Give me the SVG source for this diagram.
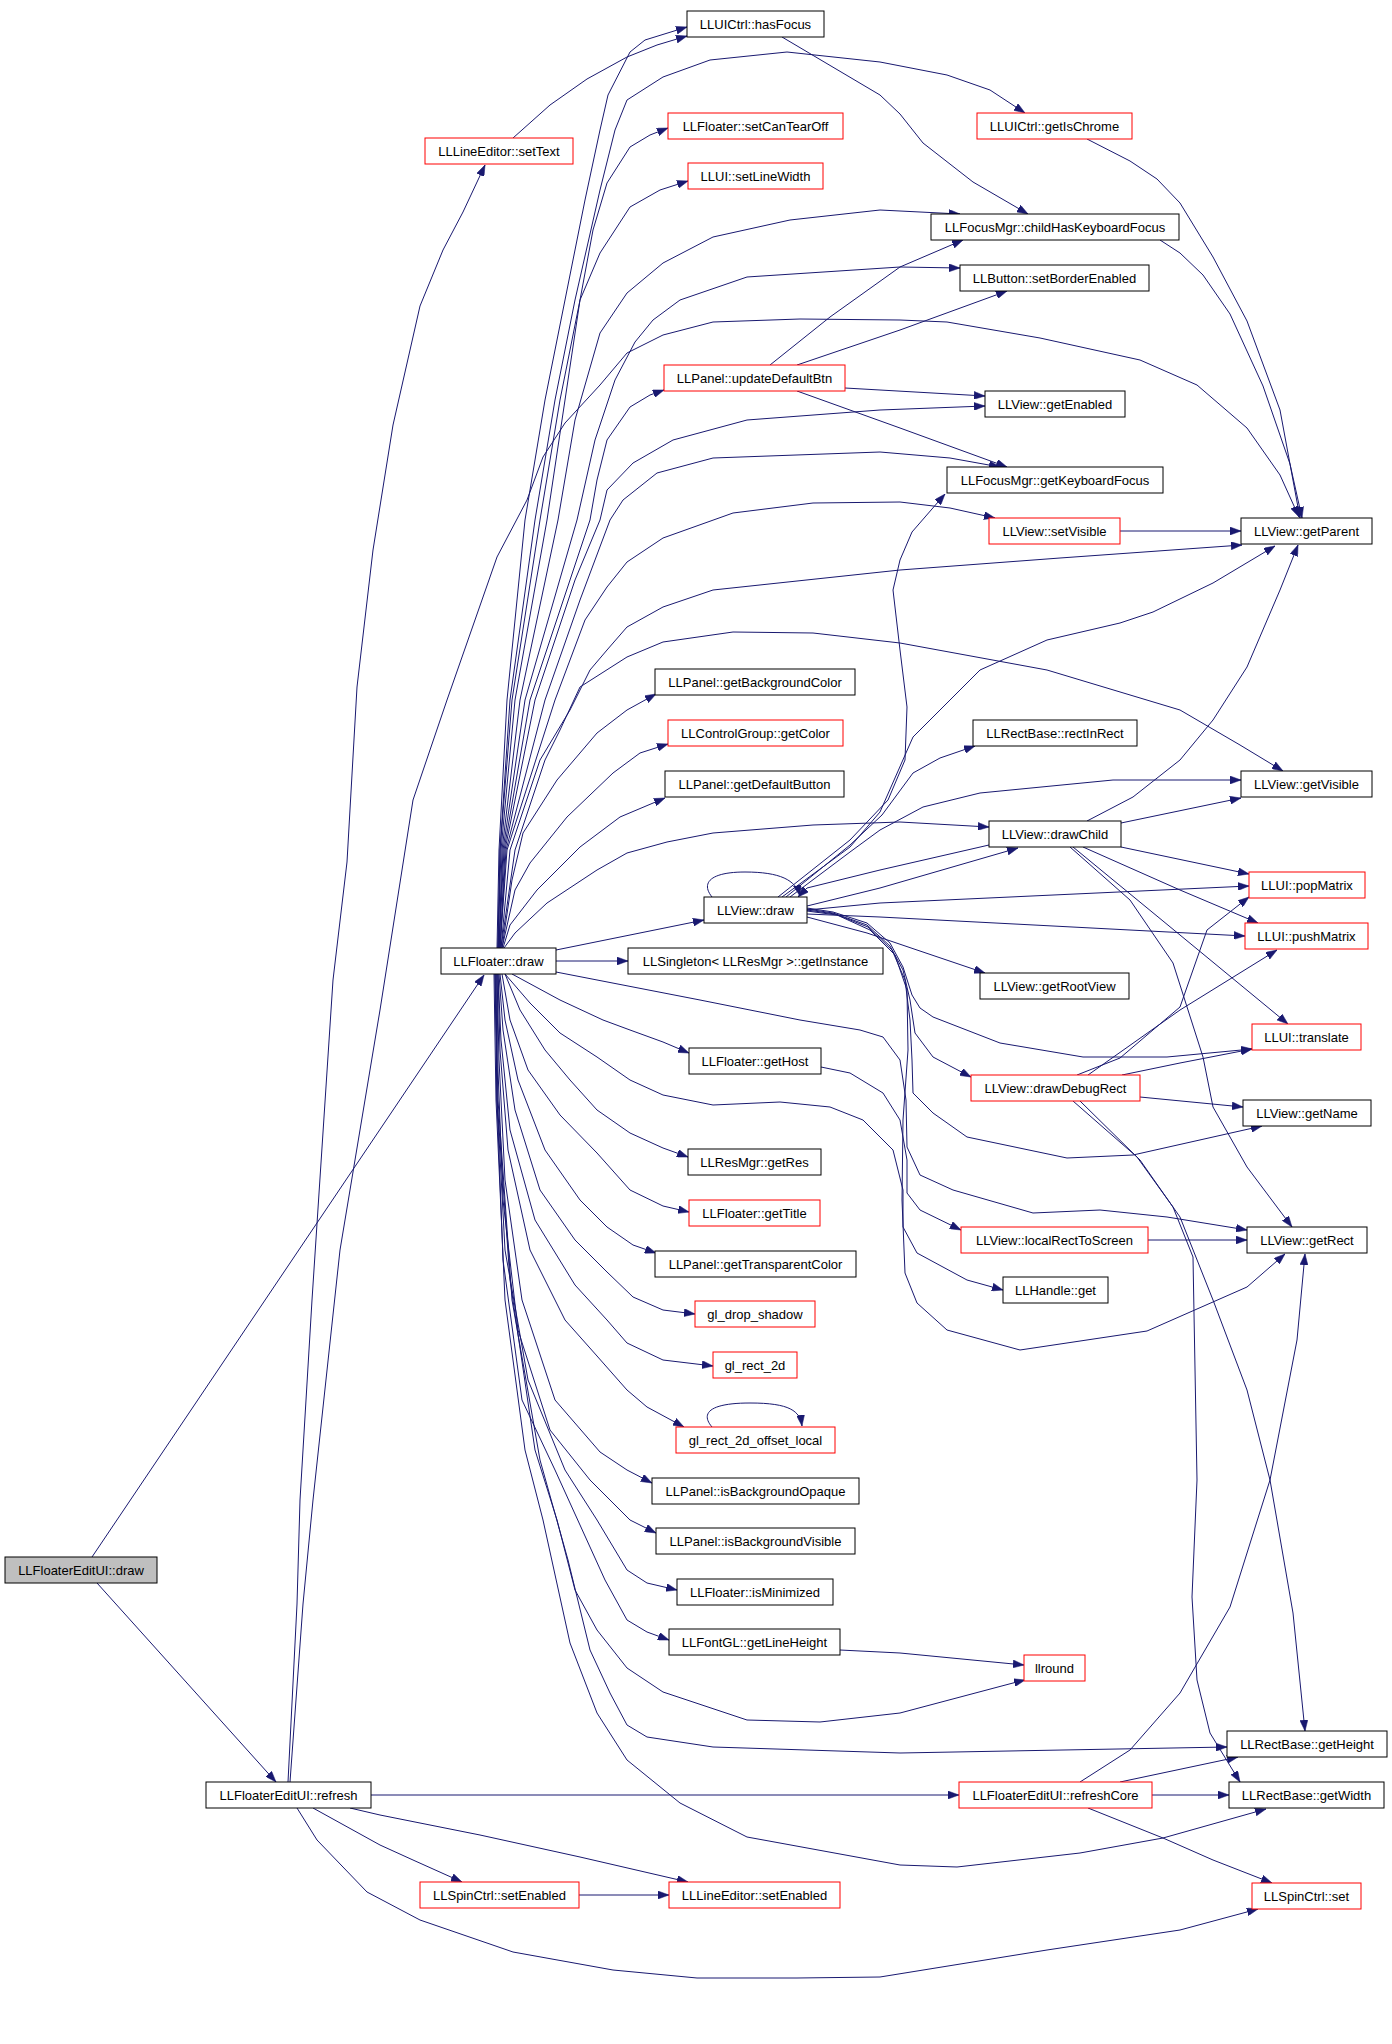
<svg xmlns="http://www.w3.org/2000/svg" width="1392" height="2044" viewBox="0 0 1392 2044">
<style>
.n rect{fill:#fff;stroke:#000;stroke-width:1}
.n.r rect{stroke:#f00}
.n.g rect{fill:#bfbfbf}
.n text{font-family:"Liberation Sans",Arial,sans-serif;font-size:13px;text-anchor:middle;fill:#000}
.e path{fill:none;stroke:#191970;stroke-width:1;stroke-linejoin:round;marker-end:url(#a)}
</style>
<defs>
<marker id="a" viewBox="0 0 11 8" markerWidth="11" markerHeight="8" refX="11" refY="4" orient="auto" markerUnits="userSpaceOnUse">
<path d="M0,0 L11,4 L0,8 z" fill="#191970" stroke="#191970" stroke-width="0.5"/>
</marker>
</defs>
<rect width="1392" height="2044" fill="#fff"/>
<g class="e" id="edges">
<path d="M92,1557 L484,975"/>
<path d="M97,1583 L276,1782"/>
<path d="M288,1782 L297,1604 L300,1500 L312,1300 L333,980 L347,862 L357,687 L373,550 L393,425 L420,306 L443,250 L463,212 L485,165"/>
<path d="M290,1782 L303,1604 L313,1500 L340,1250 L380,1010 L413,800 L447,700 L497,557 L527,500 L543,457 L565,423 L600,385 L627,353 L663,335 L713,322 L800,319 L900,320 L947,322 L1040,338 L1140,360 L1197,385 L1247,428 L1280,475 L1299,517"/>
<path d="M371,1795 L959,1795"/>
<path d="M313,1808 L380,1845 L413,1860 L462,1882"/>
<path d="M350,1808 L380,1815 L480,1835 L580,1857 L688,1882"/>
<path d="M579,1895 L669,1895"/>
<path d="M297,1808 L317,1840 L367,1892 L420,1920 L513,1952 L613,1970 L697,1978 L797,1978 L880,1977 L1047,1950 L1180,1930 L1258,1909"/>
<path d="M513,138 L550,105 L587,79 L627,57 L657,45 L687,36"/>
<path d="M497,948 L499,850 L507,700 L525,520 L545,400 L565,300 L585,200 L600,130 L608,95 L630,52 L645,40 L687,27"/>
<path d="M498,948 L500,850 L510,700 L535,520 L555,400 L575,300 L600,190 L615,130 L627,100 L663,77 L710,60 L787,52 L880,62 L947,75 L990,90 L1025,113"/>
<path d="M498,948 L500,850 L512,700 L540,520 L560,400 L580,300 L593,230 L607,183 L630,147 L650,135 L668,128"/>
<path d="M498,948 L501,850 L515,700 L547,520 L565,400 L580,300 L600,253 L630,207 L660,190 L688,181"/>
<path d="M499,948 L502,850 L520,700 L558,520 L575,420 L600,333 L627,293 L663,263 L713,237 L790,220 L880,210 L960,214"/>
<path d="M499,948 L503,850 L525,700 L577,520 L595,440 L615,380 L635,342 L653,320 L680,300 L747,277 L900,267 L960,268"/>
<path d="M499,948 L504,850 L530,700 L590,520 L597,480 L607,440 L630,407 L650,395 L664,390"/>
<path d="M500,948 L505,850 L535,700 L575,580 L600,520 L607,490 L633,463 L673,440 L747,420 L880,410 L985,406"/>
<path d="M500,948 L506,850 L545,700 L580,600 L610,520 L623,500 L657,473 L713,458 L880,452 L950,458 L1000,467"/>
<path d="M500,948 L507,850 L555,700 L585,620 L607,587 L627,562 L663,538 L733,513 L813,503 L900,502 L950,508 L995,518"/>
<path d="M501,948 L510,850 L540,760 L570,710 L590,670 L607,650 L627,627 L663,607 L713,590 L900,570 L1060,558 L1242,545"/>
<path d="M501,948 L515,850 L545,760 L560,730 L580,687 L627,657 L663,642 L733,632 L813,633 L900,643 L1047,670 L1180,710 L1240,745 L1283,771"/>
<path d="M502,948 L512,880 L523,833 L557,780 L597,733 L627,710 L656,694"/>
<path d="M502,948 L515,890 L530,863 L567,817 L613,773 L640,753 L668,744"/>
<path d="M503,948 L510,925 L537,890 L580,847 L620,817 L665,798"/>
<path d="M504,948 L515,933 L547,903 L597,870 L627,853 L667,842 L713,833 L813,825 L900,822 L989,827"/>
<path d="M556,950 L704,920"/>
<path d="M556,961 L628,961"/>
<path d="M512,974 L560,1000 L603,1020 L630,1030 L663,1042 L689,1053"/>
<path d="M505,974 L520,1010 L545,1050 L570,1080 L597,1110 L630,1133 L663,1148 L688,1157"/>
<path d="M502,974 L510,1020 L528,1070 L560,1115 L597,1153 L630,1190 L663,1206 L689,1212"/>
<path d="M500,974 L505,1020 L518,1080 L545,1150 L580,1200 L607,1227 L633,1245 L656,1253"/>
<path d="M499,974 L503,1030 L515,1110 L540,1190 L575,1240 L607,1272 L633,1297 L663,1310 L695,1314"/>
<path d="M498,974 L501,1040 L510,1130 L535,1220 L575,1285 L607,1320 L627,1343 L663,1360 L713,1366"/>
<path d="M498,974 L500,1050 L508,1150 L530,1250 L565,1320 L597,1356 L627,1390 L647,1407 L684,1427"/>
<path d="M712,1427 C700,1413 710,1403 750,1403 C790,1403 800,1411 802,1426"/>
<path d="M497,974 L499,1060 L505,1180 L522,1300 L555,1400 L600,1452 L627,1470 L652,1483"/>
<path d="M497,974 L498,1070 L503,1200 L518,1330 L550,1430 L590,1480 L613,1503 L630,1520 L656,1533"/>
<path d="M496,974 L497,1100 L505,1250 L528,1380 L565,1470 L597,1520 L627,1570 L647,1583 L677,1590"/>
<path d="M496,974 L497,1100 L503,1260 L522,1400 L555,1470 L580,1525 L605,1580 L627,1620 L647,1632 L669,1640"/>
<path d="M495,974 L497,1100 L510,1280 L535,1450 L557,1520 L575,1590 L597,1630 L627,1668 L663,1692 L747,1720 L820,1722 L900,1713 L1013,1683 L1025,1680"/>
<path d="M495,974 L498,1100 L512,1300 L540,1460 L568,1560 L590,1650 L610,1693 L627,1725 L647,1737 L713,1747 L900,1753 L1227,1747"/>
<path d="M494,974 L496,1100 L505,1300 L525,1450 L543,1520 L570,1643 L597,1713 L627,1760 L680,1803 L747,1837 L900,1865 L957,1867 L1080,1853 L1163,1838 L1266,1809"/>
<path d="M556,972 L700,1000 L800,1020 L860,1030 L883,1037 L900,1060 L906,1100 L907,1147 L920,1175 L953,1190 L1033,1213 L1100,1210 L1167,1217 L1247,1230"/>
<path d="M505,974 L530,1003 L560,1033 L597,1057 L630,1080 L663,1095 L713,1105 L780,1102 L830,1107 L863,1120 L893,1150 L903,1190 L903,1227 L917,1253 L967,1280 L1003,1290"/>
<path d="M821,1067 L850,1073 L883,1093 L900,1120 L907,1160 L907,1193 L920,1210 L961,1230"/>
<path d="M712,897 C700,882 712,872 745,872 C780,872 796,880 800,896"/>
<path d="M778,897 L850,840 L888,800 L905,760 L907,707 L900,650 L893,590 L900,560 L912,532 L945,494"/>
<path d="M782,897 L850,847 L880,812 L913,737 L980,670 L1047,640 L1120,623 L1153,612 L1213,583 L1275,546"/>
<path d="M786,897 L850,845 L882,815 L913,773 L940,758 L975,746"/>
<path d="M790,897 L850,852 L880,830 L923,807 L980,793 L1113,780 L1241,780"/>
<path d="M989,845 L880,870 L807,888 L798,897"/>
<path d="M807,906 L880,888 L1018,848"/>
<path d="M807,910 L880,903 L1249,886"/>
<path d="M807,914 L880,917 L1245,936"/>
<path d="M807,917 L867,933 L917,950 L985,973"/>
<path d="M807,908 L833,912 L867,923 L890,943 L903,967 L912,995 L920,1008 L933,1017 L1000,1043 L1083,1057 L1167,1057 L1252,1049"/>
<path d="M807,909 L833,913 L867,925 L890,946 L903,970 L910,1000 L915,1033 L933,1057 L971,1077"/>
<path d="M807,910 L835,914 L868,927 L892,950 L905,980 L910,1020 L912,1060 L913,1093 L933,1113 L967,1137 L1067,1158 L1133,1155 L1262,1126"/>
<path d="M807,911 L837,915 L870,930 L895,955 L907,990 L908,1050 L903,1120 L902,1200 L905,1273 L917,1303 L947,1330 L1020,1350 L1147,1331 L1247,1287 L1285,1254"/>
<path d="M1087,821 L1133,797 L1180,760 L1213,720 L1247,667 L1280,590 L1298,545"/>
<path d="M1121,823 L1241,798"/>
<path d="M1121,847 L1249,874"/>
<path d="M1083,847 L1180,890 L1258,923"/>
<path d="M1073,847 L1180,935 L1288,1024"/>
<path d="M1070,847 L1130,900 L1173,963 L1203,1057 L1213,1107 L1247,1167 L1292,1227"/>
<path d="M1077,1075 L1120,1058 L1180,1007 L1207,930 L1249,897"/>
<path d="M1088,1075 L1180,1010 L1277,950"/>
<path d="M1122,1075 L1180,1063 L1252,1049"/>
<path d="M1140,1097 L1243,1107"/>
<path d="M1073,1101 L1137,1157 L1173,1207 L1193,1257 L1197,1480 L1192,1597 L1197,1680 L1210,1733 L1240,1782"/>
<path d="M1080,1101 L1140,1160 L1180,1217 L1213,1300 L1247,1390 L1270,1480 L1293,1613 L1305,1731"/>
<path d="M1148,1240 L1247,1240"/>
<path d="M840,1650 L900,1653 L1024,1665"/>
<path d="M1120,1782 L1238,1757"/>
<path d="M1152,1795 L1229,1795"/>
<path d="M1088,1808 L1163,1838 L1213,1860 L1272,1883"/>
<path d="M1080,1782 L1130,1750 L1180,1693 L1230,1607 L1270,1480 L1297,1340 L1305,1254"/>
<path d="M770,365 L830,317 L900,267 L963,240"/>
<path d="M797,365 L900,330 L1007,291"/>
<path d="M845,388 L985,396"/>
<path d="M797,391 L900,428 L1007,467"/>
<path d="M782,37 L880,95 L900,114 L923,143 L973,182 L1028,214"/>
<path d="M1087,139 L1130,161 L1157,179 L1180,203 L1213,257 L1247,321 L1280,410 L1300,518"/>
<path d="M1160,240 L1180,253 L1203,275 L1230,314 L1263,386 L1290,464 L1302,518"/>
<path d="M1120,531 L1241,531"/>
</g>
<g class="n g" id="n0"><rect x="5" y="1557" width="152" height="26"/><text x="81" y="1574.5">LLFloaterEditUI::draw</text></g>
<g class="n" id="n1"><rect x="206" y="1782" width="165" height="26"/><text x="288.5" y="1799.5">LLFloaterEditUI::refresh</text></g>
<g class="n r" id="n2"><rect x="425" y="138" width="148" height="26"/><text x="499" y="155.5">LLLineEditor::setText</text></g>
<g class="n" id="n3"><rect x="441" y="948" width="115" height="26"/><text x="498.5" y="965.5">LLFloater::draw</text></g>
<g class="n r" id="n4"><rect x="420" y="1882" width="159" height="26"/><text x="499.5" y="1899.5">LLSpinCtrl::setEnabled</text></g>
<g class="n" id="n5"><rect x="687" y="11" width="137" height="26"/><text x="755.5" y="28.5">LLUICtrl::hasFocus</text></g>
<g class="n r" id="n6"><rect x="668" y="113" width="175" height="26"/><text x="755.5" y="130.5">LLFloater::setCanTearOff</text></g>
<g class="n r" id="n7"><rect x="688" y="163" width="135" height="26"/><text x="755.5" y="180.5">LLUI::setLineWidth</text></g>
<g class="n r" id="n8"><rect x="664" y="365" width="181" height="26"/><text x="754.5" y="382.5">LLPanel::updateDefaultBtn</text></g>
<g class="n" id="n9"><rect x="655" y="669" width="200" height="26"/><text x="755" y="686.5">LLPanel::getBackgroundColor</text></g>
<g class="n r" id="n10"><rect x="668" y="720" width="175" height="26"/><text x="755.5" y="737.5">LLControlGroup::getColor</text></g>
<g class="n" id="n11"><rect x="665" y="771" width="179" height="26"/><text x="754.5" y="788.5">LLPanel::getDefaultButton</text></g>
<g class="n" id="n12"><rect x="704" y="897" width="103" height="26"/><text x="755.5" y="914.5">LLView::draw</text></g>
<g class="n" id="n13"><rect x="628" y="948" width="255" height="26"/><text x="755.5" y="965.5">LLSingleton&lt; LLResMgr &gt;::getInstance</text></g>
<g class="n" id="n14"><rect x="689" y="1048" width="132" height="26"/><text x="755" y="1065.5">LLFloater::getHost</text></g>
<g class="n" id="n15"><rect x="688" y="1149" width="133" height="26"/><text x="754.5" y="1166.5">LLResMgr::getRes</text></g>
<g class="n r" id="n16"><rect x="689" y="1200" width="131" height="26"/><text x="754.5" y="1217.5">LLFloater::getTitle</text></g>
<g class="n" id="n17"><rect x="655" y="1251" width="201" height="26"/><text x="755.5" y="1268.5">LLPanel::getTransparentColor</text></g>
<g class="n r" id="n18"><rect x="695" y="1301" width="120" height="26"/><text x="755" y="1318.5">gl_drop_shadow</text></g>
<g class="n r" id="n19"><rect x="713" y="1352" width="84" height="26"/><text x="755" y="1369.5">gl_rect_2d</text></g>
<g class="n r" id="n20"><rect x="676" y="1427" width="159" height="26"/><text x="755.5" y="1444.5">gl_rect_2d_offset_local</text></g>
<g class="n" id="n21"><rect x="652" y="1478" width="207" height="26"/><text x="755.5" y="1495.5">LLPanel::isBackgroundOpaque</text></g>
<g class="n" id="n22"><rect x="656" y="1528" width="199" height="26"/><text x="755.5" y="1545.5">LLPanel::isBackgroundVisible</text></g>
<g class="n" id="n23"><rect x="677" y="1579" width="156" height="26"/><text x="755" y="1596.5">LLFloater::isMinimized</text></g>
<g class="n" id="n24"><rect x="669" y="1629" width="171" height="26"/><text x="754.5" y="1646.5">LLFontGL::getLineHeight</text></g>
<g class="n r" id="n25"><rect x="669" y="1882" width="171" height="26"/><text x="754.5" y="1899.5">LLLineEditor::setEnabled</text></g>
<g class="n r" id="n26"><rect x="977" y="113" width="155" height="26"/><text x="1054.5" y="130.5">LLUICtrl::getIsChrome</text></g>
<g class="n" id="n27"><rect x="931" y="214" width="248" height="26"/><text x="1055" y="231.5">LLFocusMgr::childHasKeyboardFocus</text></g>
<g class="n" id="n28"><rect x="960" y="265" width="189" height="26"/><text x="1054.5" y="282.5">LLButton::setBorderEnabled</text></g>
<g class="n" id="n29"><rect x="985" y="391" width="140" height="26"/><text x="1055" y="408.5">LLView::getEnabled</text></g>
<g class="n" id="n30"><rect x="947" y="467" width="216" height="26"/><text x="1055" y="484.5">LLFocusMgr::getKeyboardFocus</text></g>
<g class="n r" id="n31"><rect x="989" y="518" width="131" height="26"/><text x="1054.5" y="535.5">LLView::setVisible</text></g>
<g class="n" id="n32"><rect x="973" y="720" width="164" height="26"/><text x="1055" y="737.5">LLRectBase::rectInRect</text></g>
<g class="n" id="n33"><rect x="989" y="821" width="132" height="26"/><text x="1055" y="838.5">LLView::drawChild</text></g>
<g class="n" id="n34"><rect x="980" y="973" width="149" height="26"/><text x="1054.5" y="990.5">LLView::getRootView</text></g>
<g class="n r" id="n35"><rect x="971" y="1075" width="169" height="26"/><text x="1055.5" y="1092.5">LLView::drawDebugRect</text></g>
<g class="n r" id="n36"><rect x="961" y="1227" width="187" height="26"/><text x="1054.5" y="1244.5">LLView::localRectToScreen</text></g>
<g class="n" id="n37"><rect x="1003" y="1277" width="105" height="26"/><text x="1055.5" y="1294.5">LLHandle::get</text></g>
<g class="n r" id="n38"><rect x="1024" y="1655" width="61" height="26"/><text x="1054.5" y="1672.5">llround</text></g>
<g class="n r" id="n39"><rect x="959" y="1782" width="193" height="26"/><text x="1055.5" y="1799.5">LLFloaterEditUI::refreshCore</text></g>
<g class="n" id="n40"><rect x="1241" y="518" width="131" height="26"/><text x="1306.5" y="535.5">LLView::getParent</text></g>
<g class="n" id="n41"><rect x="1241" y="771" width="131" height="26"/><text x="1306.5" y="788.5">LLView::getVisible</text></g>
<g class="n r" id="n42"><rect x="1249" y="872" width="116" height="26"/><text x="1307" y="889.5">LLUI::popMatrix</text></g>
<g class="n r" id="n43"><rect x="1245" y="923" width="123" height="26"/><text x="1306.5" y="940.5">LLUI::pushMatrix</text></g>
<g class="n r" id="n44"><rect x="1252" y="1024" width="109" height="26"/><text x="1306.5" y="1041.5">LLUI::translate</text></g>
<g class="n" id="n45"><rect x="1243" y="1100" width="128" height="26"/><text x="1307" y="1117.5">LLView::getName</text></g>
<g class="n" id="n46"><rect x="1247" y="1227" width="120" height="26"/><text x="1307" y="1244.5">LLView::getRect</text></g>
<g class="n" id="n47"><rect x="1227" y="1731" width="160" height="26"/><text x="1307" y="1748.5">LLRectBase::getHeight</text></g>
<g class="n" id="n48"><rect x="1229" y="1782" width="155" height="26"/><text x="1306.5" y="1799.5">LLRectBase::getWidth</text></g>
<g class="n r" id="n49"><rect x="1252" y="1883" width="109" height="26"/><text x="1306.5" y="1900.5">LLSpinCtrl::set</text></g>
</svg>
